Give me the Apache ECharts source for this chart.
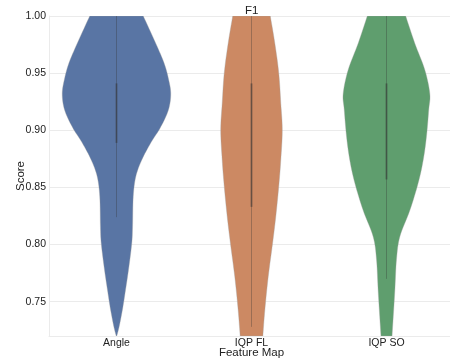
<!DOCTYPE html>
<html>
<head>
<meta charset="utf-8">
<script src="https://cdn.jsdelivr.net/npm/echarts@6/dist/echarts.min.js"></script>
<style>html,body{margin:0;padding:0;background:#fff}#c{width:450px;height:360px}</style>
</head>
<body>
<div id="c"></div>
<script>
// ---- data ----
const categories = ['Angle', 'IQP FL', 'IQP SO'];
const colors = ['#5975a4', '#cc8963', '#5f9e6e'];
const yTicks = [0.75, 0.80, 0.85, 0.90, 0.95, 1.00];

// violin outlines: score levels and half-width (fraction of category band)
const angleLevels = [1.00, 0.976, 0.9586, 0.945, 0.932, 0.918, 0.903, 0.889, 0.874, 0.8595, 0.842, 0.816, 0.801, 0.778, 0.758, 0.743, 0.7284, 0.720];
const angleHalfW  = [0.198, 0.291, 0.353, 0.385, 0.402, 0.385, 0.328, 0.254, 0.187, 0.143, 0.124, 0.119, 0.113, 0.089, 0.064, 0.044, 0.020, 0.002];
const iqpflLevels = [1.00, 0.976, 0.950, 0.9237, 0.900, 0.874, 0.851, 0.8246, 0.801, 0.772, 0.743, 0.720];
const iqpflHalfW  = [0.139, 0.173, 0.202, 0.217, 0.228, 0.217, 0.202, 0.180, 0.156, 0.124, 0.099, 0.084];
const iqpsoLevels = [1.00, 0.976, 0.9528, 0.932, 0.918, 0.8945, 0.874, 0.854, 0.830, 0.807, 0.787, 0.758, 0.720];
const iqpsoHalfW  = [0.142, 0.210, 0.284, 0.321, 0.313, 0.296, 0.272, 0.235, 0.173, 0.099, 0.074, 0.061, 0.041];

// inner box: quartiles and whiskers
const q1 = [0.889, 0.833, 0.857];
const q3 = [0.941, 0.941, 0.941];
const whiskerLow = [0.824, 0.728, 0.770];
const whiskerHigh = [1.00, 1.00, 1.00];

const levels = [angleLevels, iqpflLevels, iqpsoLevels];
const halfW = [angleHalfW, iqpflHalfW, iqpsoHalfW];

function catmull(pts, seg) {
  const out = [];
  for (let i = 0; i < pts.length - 1; i++) {
    const p0 = pts[Math.max(i - 1, 0)], p1 = pts[i], p2 = pts[i + 1], p3 = pts[Math.min(i + 2, pts.length - 1)];
    for (let s = 0; s < seg; s++) {
      const t = s / seg, t2 = t * t, t3 = t2 * t;
      const f = (a, b, c, d) => 0.5 * ((2 * b) + (-a + c) * t + (2 * a - 5 * b + 4 * c - d) * t2 + (-a + 3 * b - 3 * c + d) * t3);
      out.push([f(p0[0], p1[0], p2[0], p3[0]), f(p0[1], p1[1], p2[1], p3[1])]);
    }
  }
  out.push(pts[pts.length - 1]);
  return out;
}

const chart = echarts.init(document.getElementById('c'), null, {renderer: 'canvas'});
const font = 'Liberation Sans, Arial, sans-serif';
chart.setOption({
  animation: false,
  backgroundColor: '#fff',
  title: {text: 'F1', left: 245, top: 5, padding: 0, textStyle: {fontFamily: font, fontSize: 11.5, fontWeight: 'normal', color: '#222'}},
  grid: {left: 49, top: 16, width: 405, height: 320, containLabel: false, outerBoundsMode: 'none'},
  xAxis: {
    type: 'category', data: categories, boundaryGap: true,
    name: 'Feature Map', nameLocation: 'middle', nameGap: 11, nameMoveOverlap: false,
    nameTextStyle: {fontFamily: font, fontSize: 11.5, color: '#222'},
    axisLine: {show: true, lineStyle: {color: '#ebebeb'}},
    axisTick: {show: false},
    axisLabel: {fontFamily: font, fontSize: 10.5, color: '#222', margin: 2},
    splitLine: {show: false}
  },
  yAxis: {
    type: 'value', min: 0.72, max: 1.0,
    name: 'Score', nameLocation: 'middle', nameGap: 22, nameRotate: 90, nameMoveOverlap: false,
    nameTextStyle: {fontFamily: font, fontSize: 11.5, color: '#222'},
    axisLine: {show: true, lineStyle: {color: '#ebebeb'}},
    axisTick: {show: false},
    axisLabel: {
      fontFamily: font, fontSize: 10.5, color: '#222', margin: 3,
      formatter: v => yTicks.some(t => Math.abs(t - v) < 1e-6) ? v.toFixed(2) : ''
    },
    splitLine: {show: true, lineStyle: {color: '#ebebeb', width: 1}}
  },
  series: [{
    type: 'custom',
    clip: true,
    data: categories.map((c, i) => [i, q3[i]]),
    encode: {x: 0, y: 1},
    renderItem: function (params, api) {
      const i = params.dataIndex;
      const band = api.size([1, 0])[0];
      const cx = api.coord([i, 0.9])[0];
      const lv = levels[i], hw = halfW[i];
      const right = lv.map((v, k) => [cx + hw[k] * band, api.coord([i, v])[1]]);
      const left = lv.map((v, k) => [cx - hw[k] * band, api.coord([i, v])[1]]);
      const r = catmull(right, 8);
      const l = catmull(left, 8).reverse();
      const pts = r.concat(l);
      const yq1 = api.coord([i, q1[i]])[1], yq3 = api.coord([i, q3[i]])[1];
      const ywl = api.coord([i, whiskerLow[i]])[1], ywh = api.coord([i, whiskerHigh[i]])[1];
      return {
        type: 'group',
        children: [
          {type: 'polygon', shape: {points: pts}, style: {fill: colors[i], stroke: 'rgba(160,160,160,0.7)', lineWidth: 0.5}},
          {type: 'line', shape: {x1: cx, y1: ywh, x2: cx, y2: ywl}, style: {stroke: 'rgba(50,50,50,0.32)', lineWidth: 1}},
          {type: 'line', shape: {x1: cx, y1: yq3, x2: cx, y2: yq1}, style: {stroke: 'rgba(50,50,50,0.5)', lineWidth: 1.8}}
        ]
      };
    }
  }]
});
</script>
</body>
</html>
